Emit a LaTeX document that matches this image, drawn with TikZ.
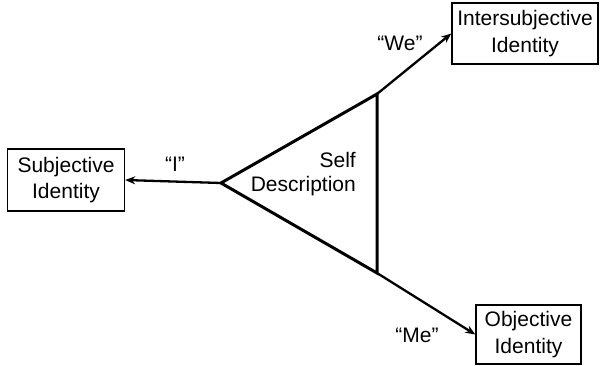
\documentclass[tikz,border=0pt]{standalone}
\usepackage{fontspec}
\setmainfont{Liberation Sans}
\usetikzlibrary{arrows.meta}
\begin{document}
\begin{tikzpicture}[x=1pt,y=-1pt,
  idbox/.style={draw, line width=1.4pt, align=center, inner sep=0pt,
    font=\fontsize{21}{26.5}\selectfont},
  lbl/.style={font=\fontsize{21}{26}\selectfont, inner sep=0pt},
  tri/.style={line width=3pt, line join=miter},
  arr/.style={line width=2.3pt, -{Stealth[length=10pt,width=8pt]}}]
\useasboundingbox (0,0) rectangle (600,365);
\node[idbox, minimum width=117pt, minimum height=62pt] (subj) at (66,180) {Subjective\\Identity};
\node[idbox, minimum width=146pt, minimum height=61pt] (inter) at (525,33.5) {Intersubjective\\Identity};
\node[idbox, minimum width=105pt, minimum height=59pt] (obj) at (528.5,334.5) {Objective\\Identity};
\coordinate (L) at (221,183);
\coordinate (T) at (377,94);
\coordinate (B) at (377,273);
\draw[tri] (L) -- (T) -- (B) -- cycle;
\draw[arr] (L) -- (subj.east);
\draw[arr] (T) -- (inter.west);
\draw[arr] (B) -- (obj.west);
\node[lbl, align=right, anchor=north east, font=\fontsize{21}{24}\selectfont] (sd) at (356,152) {Self\\Description};
\node[lbl] (i) at (175,164) {“I”};
\node[lbl] (we) at (400,43) {“We”};
\node[lbl] (me) at (417,335) {“Me”};
\end{tikzpicture}
\end{document}
